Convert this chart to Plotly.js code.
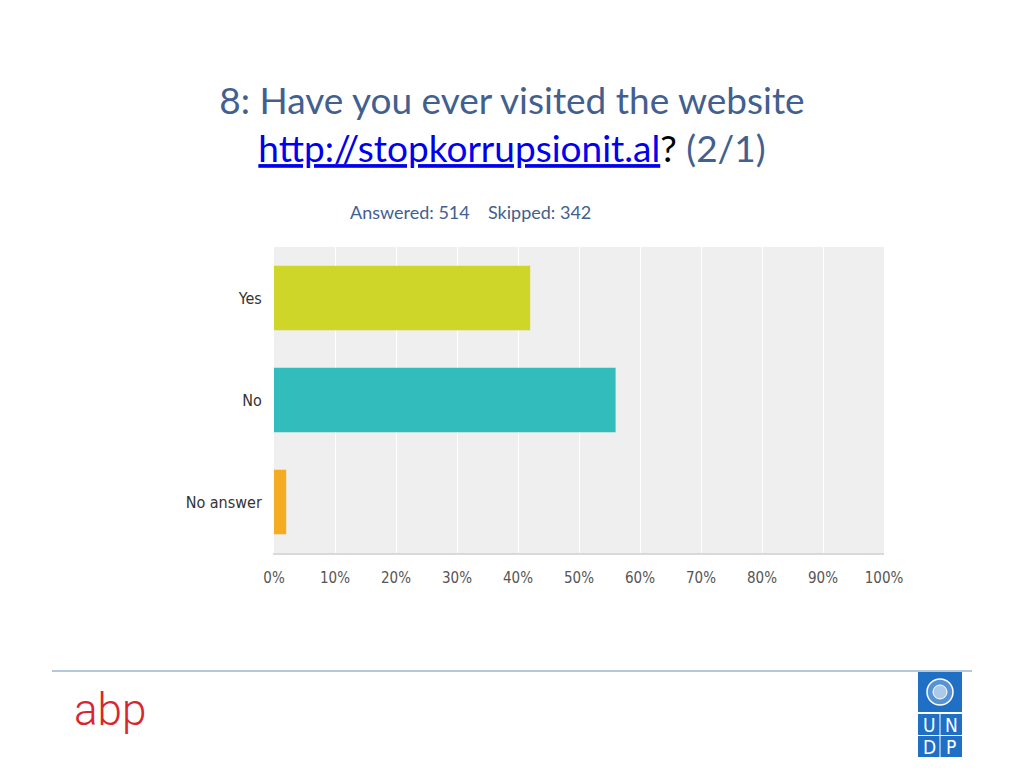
<!DOCTYPE html>
<html>
<head>
<meta charset="utf-8">
<script src="https://cdn.plot.ly/plotly-3.0.1.min.js"></script>
<style>
  html, body { margin: 0; padding: 0; background: #ffffff; }
  #chart { width: 1024px; height: 768px; }
</style>
</head>
<body>
<div id="chart"></div>
<script>
// ---- data ----
const categories = ["Yes", "No", "No answer"];
const percentValues = [42, 56, 2];
const barColors = ["#cfd62a", "#32bcbc", "#f4ad22"];
const tickValues = [0, 10, 20, 30, 40, 50, 60, 70, 80, 90, 100];
const tickLabels = ["0%", "10%", "20%", "30%", "40%", "50%", "60%", "70%", "80%", "90%", "100%"];
const titleLine1 = "8: Have you ever visited the website";
const titleLink = "http://stopkorrupsionit.al";
const answeredText = "Answered: 514";
const skippedText = "Skipped: 342";

const slate = "#42608f";

const trace = {
  type: "bar",
  orientation: "h",
  y: categories,
  x: percentValues,
  marker: { color: barColors, line: { width: 0 } },
  width: 0.63,
  hoverinfo: "x+y"
};

const layout = {
  width: 1024,
  height: 768,
  paper_bgcolor: "#ffffff",
  plot_bgcolor: "#efefef",
  margin: { l: 274, r: 140, t: 247, b: 215, pad: 0 },
  showlegend: false,
  title: {
    text: titleLine1 + "<br><span style='color:#0000ee;text-decoration:underline'>" + titleLink +
          "</span><span style='color:#000000'>?</span> (2/1)",
    font: { family: "Lato, 'Open Sans', sans-serif", size: 37, color: slate },
    xref: "container", x: 0.5, xanchor: "center",
    yref: "container", y: 1 - 114 / 768, yanchor: "top"
  },
  xaxis: {
    range: [0, 100],
    tickvals: tickValues,
    ticktext: tickLabels,
    showgrid: true,
    gridcolor: "#ffffff",
    gridwidth: 1,
    zeroline: false,
    showline: true,
    linecolor: "#d9d9d9",
    linewidth: 2,
    ticks: "",
    ticklabelstandoff: 10,
    tickfont: { family: "'DejaVu Sans Condensed', 'DejaVu Sans', sans-serif", size: 15, color: "#555555" },
    fixedrange: true
  },
  yaxis: {
    autorange: "reversed",
    showgrid: false,
    zeroline: false,
    showline: true,
    linecolor: "#ffffff",
    linewidth: 1,
    ticks: "",
    ticklabelstandoff: 8,
    tickfont: { family: "'DejaVu Sans Condensed', 'DejaVu Sans', sans-serif", size: 16, color: "#333333" },
    fixedrange: true
  },
  annotations: [
    { text: answeredText, xref: "paper", yref: "paper", x: (348 - 274) / 610, xanchor: "left",
      y: 1 + (247 - 212) / 306, yanchor: "middle", showarrow: false,
      font: { family: "Lato, 'Open Sans', sans-serif", size: 18, color: slate } },
    { text: skippedText, xref: "paper", yref: "paper", x: (486 - 274) / 610, xanchor: "left",
      y: 1 + (247 - 212) / 306, yanchor: "middle", showarrow: false,
      font: { family: "Lato, 'Open Sans', sans-serif", size: 18, color: slate } },
    { text: "abp", xref: "paper", yref: "paper", x: (72 - 274) / 610, xanchor: "left",
      y: -(710 - 553) / 306, yanchor: "middle", showarrow: false,
      font: { family: "Roboto, sans-serif", size: 44, weight: 300, color: "#d9262e" } },
    { text: "U", xref: "paper", yref: "paper", x: (929 - 274) / 610, xanchor: "center",
      y: -(725 - 553) / 306, yanchor: "middle", showarrow: false,
      font: { family: "'DejaVu Sans Condensed', sans-serif", size: 19, color: "#ffffff" } },
    { text: "N", xref: "paper", yref: "paper", x: (951 - 274) / 610, xanchor: "center",
      y: -(725 - 553) / 306, yanchor: "middle", showarrow: false,
      font: { family: "'DejaVu Sans Condensed', sans-serif", size: 19, color: "#ffffff" } },
    { text: "D", xref: "paper", yref: "paper", x: (929 - 274) / 610, xanchor: "center",
      y: -(747 - 553) / 306, yanchor: "middle", showarrow: false,
      font: { family: "'DejaVu Sans Condensed', sans-serif", size: 19, color: "#ffffff" } },
    { text: "P", xref: "paper", yref: "paper", x: (951 - 274) / 610, xanchor: "center",
      y: -(747 - 553) / 306, yanchor: "middle", showarrow: false,
      font: { family: "'DejaVu Sans Condensed', sans-serif", size: 19, color: "#ffffff" } }
  ],
  shapes: [
    // footer rule
    { type: "line", xref: "paper", yref: "paper",
      x0: (52 - 274) / 610, x1: (972 - 274) / 610, y0: -(671 - 553) / 306, y1: -(671 - 553) / 306,
      line: { color: "#9fb4cf", width: 1.5 } },
    // UNDP logo blocks
    { type: "rect", xref: "paper", yref: "paper",
      x0: (918 - 274) / 610, x1: (962 - 274) / 610, y0: -(712 - 553) / 306, y1: -(672 - 553) / 306,
      fillcolor: "#1f6fc5", line: { width: 0 } },
    { type: "rect", xref: "paper", yref: "paper",
      x0: (918 - 274) / 610, x1: (939.5 - 274) / 610, y0: -(735 - 553) / 306, y1: -(714 - 553) / 306,
      fillcolor: "#1f6fc5", line: { width: 0 } },
    { type: "rect", xref: "paper", yref: "paper",
      x0: (940.5 - 274) / 610, x1: (962 - 274) / 610, y0: -(735 - 553) / 306, y1: -(714 - 553) / 306,
      fillcolor: "#1f6fc5", line: { width: 0 } },
    { type: "rect", xref: "paper", yref: "paper",
      x0: (918 - 274) / 610, x1: (939.5 - 274) / 610, y0: -(757 - 553) / 306, y1: -(736 - 553) / 306,
      fillcolor: "#1f6fc5", line: { width: 0 } },
    { type: "rect", xref: "paper", yref: "paper",
      x0: (940.5 - 274) / 610, x1: (962 - 274) / 610, y0: -(757 - 553) / 306, y1: -(736 - 553) / 306,
      fillcolor: "#1f6fc5", line: { width: 0 } },
    // UN emblem (simplified)
    { type: "circle", xref: "paper", yref: "paper",
      x0: (927 - 274) / 610, x1: (953 - 274) / 610, y0: -(705 - 553) / 306, y1: -(679 - 553) / 306,
      fillcolor: "rgba(255,255,255,0.25)", line: { color: "#ffffff", width: 1.5 } },
    { type: "circle", xref: "paper", yref: "paper",
      x0: (933 - 274) / 610, x1: (947 - 274) / 610, y0: -(699 - 553) / 306, y1: -(685 - 553) / 306,
      fillcolor: "rgba(255,255,255,0.5)", line: { color: "#ffffff", width: 1 } }
  ]
};

Plotly.newPlot("chart", [trace], layout, { displayModeBar: false, staticPlot: false });
</script>
</body>
</html>
